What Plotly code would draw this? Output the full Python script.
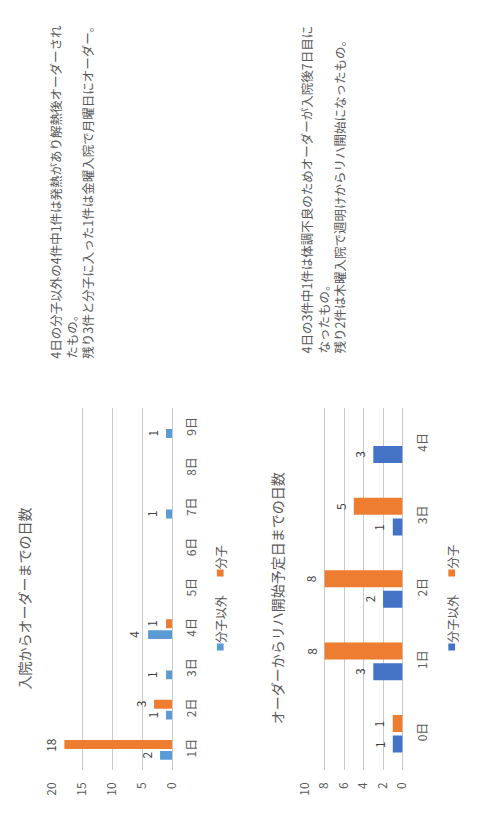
import plotly.graph_objects as go

W, H = 478, 831

# 入院からオーダーまでの日数
days1 = ["1日", "2日", "3日", "4日", "5日", "6日", "7日", "8日", "9日"]
other1 = [2, 1, 1, 4, 0, 0, 1, 0, 1]      # 分子以外
bunshi1 = [18, 3, 0, 1, 0, 0, 0, 0, 0]    # 分子

# オーダーからリハ開始予定日までの日数
days2 = ["0日", "1日", "2日", "3日", "4日"]
other2 = [1, 3, 2, 1, 3]                  # 分子以外
bunshi2 = [1, 8, 8, 5, 0]                 # 分子

series_names = ["分子以外", "分子"]
title1 = "入院からオーダーまでの日数"
title2 = "オーダーからリハ開始予定日までの日数"
note1 = ["4日の分子以外の4件中1件は発熱があり解熱後オーダーされ",
         "たもの。",
         "残り3件と分子に入った1件は金曜入院で月曜日にオーダー。"]
note2 = ["4日の3件中1件は体調不良のためオーダーが入院後7日目に",
         "なったもの。",
         "残り2件は木曜入院で週明けからリハ開始になったもの。"]

FONT = "Noto Sans CJK JP"
TXT = "#595959"
LBL = "#404040"
GRID = "#C9C9C9"
ORANGE = "#ED7D31"
BLUE1 = "#5B9BD5"
BLUE2 = "#4472C4"


def px(x):
    return x / W


def py(y):
    return 1 - y / H


fig = go.Figure()

# page is laid out sideways: value axes run right-to-left, categories bottom-to-top
charts = [
    dict(cats=days1, a=other1, b=bunshi1, blue=BLUE1, xa="x", ya="y",
         width=0.22, off_a=-0.245, off_b=0.025),
    dict(cats=days2, a=other2, b=bunshi2, blue=BLUE2, xa="x2", ya="y2",
         width=0.235, off_a=-0.26, off_b=0.025),
]

annotations = []
for c in charts:
    for vals, color, off, name in [(c["a"], c["blue"], c["off_a"], series_names[0]),
                                   (c["b"], ORANGE, c["off_b"], series_names[1])]:
        fig.add_trace(go.Bar(
            orientation="h", x=vals, y=c["cats"], name=name,
            marker=dict(color=color, line=dict(width=0)),
            width=c["width"], offset=off,
            xaxis=c["xa"], yaxis=c["ya"], hoverinfo="skip",
        ))
        for i, v in enumerate(vals):
            if v:
                annotations.append(dict(
                    x=v, y=i + off + c["width"] / 2, xref=c["xa"], yref=c["ya"],
                    text=str(v), showarrow=False, textangle=-90, xshift=-14,
                    font=dict(family=FONT, size=12, color=LBL),
                ))

ydom = [py(770), py(408)]
common_val = dict(showgrid=True, gridcolor=GRID, gridwidth=1, zeroline=True,
                  zerolinecolor=GRID, zerolinewidth=1, showline=False,
                  tickangle=-90, ticks="", ticklabelstandoff=9,
                  tickfont=dict(family=FONT, size=12, color=TXT), fixedrange=True)
common_cat = dict(type="category", side="right", showgrid=False, zeroline=False,
                  showline=False, tickangle=-90, ticks="", ticklabelstandoff=11,
                  tickfont=dict(family=FONT, size=12, color=TXT), fixedrange=True)

fig.update_layout(
    xaxis=dict(domain=[px(44), px(168)], range=[20, 0], dtick=5, tick0=0,
               anchor="y", **common_val),
    yaxis=dict(domain=ydom, range=[-0.5, 8.5], anchor="x", **common_cat),
    xaxis2=dict(domain=[px(306), px(407)], range=[10, 0], dtick=2, tick0=0,
                anchor="y2", **common_val),
    yaxis2=dict(domain=ydom, range=[-0.5, 4.5], anchor="x2", **common_cat),
)

# chart titles
for t, x in [(title1, 15), (title2, 277)]:
    annotations.append(dict(x=px(x), y=py(598), xref="paper", yref="paper",
                            text=t, showarrow=False, textangle=-90,
                            xanchor="center", yanchor="middle",
                            font=dict(family=FONT, size=14, color=TXT)))

# notes above each chart
for lines, x in [(note1, 64), (note2, 325)]:
    annotations.append(dict(x=px(x), y=py(189), xref="paper", yref="paper",
                            text="<br>".join(lines), showarrow=False,
                            textangle=-90, align="left",
                            xanchor="center", yanchor="middle",
                            font=dict(family=FONT, size=12.5, color=TXT)))

# legends drawn sideways
shapes = []
for lx, blue in [(218, BLUE1), (458, BLUE2)]:
    for cy, color, name, ty in [(647, blue, series_names[0], 619),
                                (573, ORANGE, series_names[1], 557)]:
        shapes.append(dict(type="rect", xref="paper", yref="paper",
                           x0=px(lx - 3.5), x1=px(lx + 3.5),
                           y0=py(cy + 3.5), y1=py(cy - 3.5),
                           fillcolor=color, line=dict(width=0)))
        annotations.append(dict(x=px(lx), y=py(ty), xref="paper", yref="paper",
                                text=name, showarrow=False, textangle=-90,
                                xanchor="center", yanchor="middle",
                                font=dict(family=FONT, size=12, color=TXT)))

fig.update_layout(
    width=W, height=H, margin=dict(l=0, r=0, t=0, b=0),
    paper_bgcolor="white", plot_bgcolor="white",
    showlegend=False, barmode="overlay",
    annotations=annotations, shapes=shapes,
)

fig.write_html("out.html")
